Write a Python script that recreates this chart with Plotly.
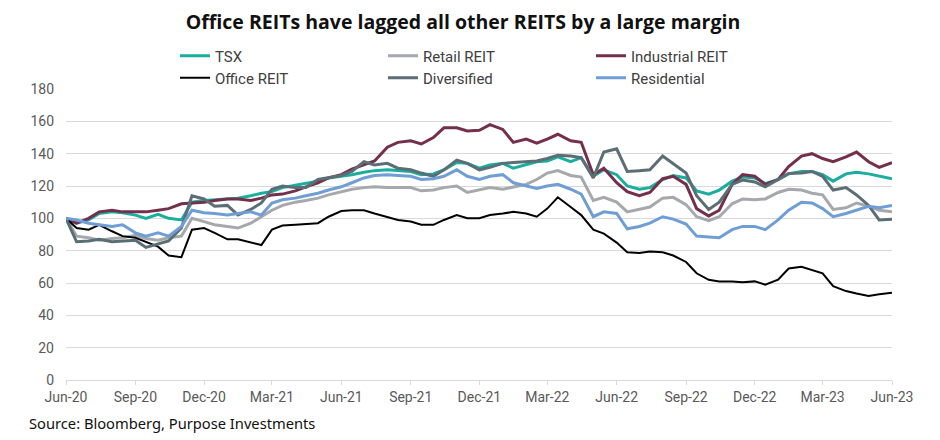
import plotly.graph_objects as go
import pandas as pd

dates = pd.date_range("2020-06-01", periods=73, freq="SMS").strftime("%Y-%m-%d").tolist()

tsx = [100, 97, 99, 103, 104, 103.5, 102, 100, 102.5, 100, 99, 110, 111, 111.5, 112, 112.5, 114, 115.5, 116.5, 119,
       120.5, 121.5, 123, 125, 126, 127, 128.5, 129.5, 130, 129.5, 129, 127, 127.5, 130, 134.5, 134, 131, 133, 134, 131,
       133, 135, 135.5, 138, 135, 137.5, 126, 130, 127, 120, 118, 119, 124, 126.5, 125, 117, 115, 117.5, 123, 125.5,
       125, 121.5, 124, 127.5, 129, 129, 127, 123, 127.5, 128.5, 127.5, 126, 124.5]
retail = [100, 89, 88, 86.5, 87.5, 88, 89.5, 87.5, 86.5, 88, 89, 100, 98, 96, 95, 94, 97, 101, 105, 108,
          110, 111, 112.5, 114.5, 116.5, 118, 119, 119.5, 119, 119, 119, 117, 117.5, 119, 120, 116, 117.5, 119, 118, 119.5,
          121, 124, 128, 129.5, 126.5, 125.5, 111, 113, 110, 104, 105.5, 107, 112.5, 113, 108.5, 101, 98.5, 101, 109, 112,
          111.5, 112, 116, 118, 117.5, 115.5, 114.5, 105.5, 106.5, 109.5, 107.5, 105, 104]
industrial = [100, 97, 100, 104, 105, 104, 104, 104, 105, 106, 109, 109.5, 110, 111, 112, 112, 111, 112.5, 114.5, 115,
              117, 119.5, 122, 125, 127, 130.5, 133, 135.5, 144, 147, 148, 146, 150, 156, 156, 154, 154.5, 158, 155, 147,
              149, 146.5, 149, 152, 148, 147, 127, 131, 122, 116.5, 114, 116, 124.5, 126, 121, 106, 101.5, 105, 121, 127,
              126, 121, 124, 132, 138.5, 140, 137, 135, 138, 141, 135, 131.5, 134.5]
office = [100, 94, 93, 96, 92, 89, 88, 85.5, 82.5, 77, 76, 93, 94, 91, 87, 87, 85, 83.5, 93, 95.5,
          96, 96.5, 97, 101, 104.5, 105, 105, 103, 101, 99, 98, 96, 96, 99, 102, 100, 100, 102, 103, 104,
          103, 101, 106, 113, 107, 102, 93, 90.5, 85, 79, 78.5, 79.5, 79, 77, 73, 66, 62, 61, 61, 60.5,
          61, 59, 62, 69, 70, 68, 66, 58, 55, 53.5, 52, 53, 54]
diversified = [100, 85.5, 86, 87, 85.5, 86, 86.5, 82, 84, 86, 94, 114, 112, 107.5, 108, 102, 105.5, 109.5, 118, 120,
               119, 119, 124, 125, 126.5, 129, 135, 133, 134, 131, 130, 128, 126, 130, 136, 134, 130, 131.5, 134, 134.5,
               135, 135.5, 137, 139, 138.5, 137.5, 125, 141, 143, 129, 129.5, 130, 138.5, 134, 128, 114, 105.5, 110, 121, 123.7,
               122.5, 119.5, 124, 127.8, 128, 129, 126, 117.5, 119, 114.5, 108, 99, 99.5]
residential = [100, 99, 97, 96, 95, 96, 91, 89, 91, 89, 95, 105, 103.5, 103, 102, 103, 104, 102, 109.5, 111.5,
               112.5, 114, 115.5, 117.5, 119.5, 122, 125, 126.5, 127, 126.5, 126, 124, 124.5, 126, 130, 126, 124, 126, 127, 122,
               120, 118.5, 120, 121, 118, 115, 101, 104, 103, 93.5, 95, 97, 101, 99.5, 96.5, 89, 88.5, 88, 93, 95,
               95, 93, 99, 105, 110, 109.5, 106, 101, 103, 105, 107.5, 106.5, 108]

series_names = ["TSX", "Retail REIT", "Industrial REIT", "Office REIT", "Diversified", "Residential"]
series_values = [tsx, retail, industrial, office, diversified, residential]
colors = ["#1AAE9F", "#A5A8AC", "#742F4B", "#000000", "#5B6E76", "#6F9ED6"]
widths = [3, 3, 3, 2, 3, 3]
legends = ["legend", "legend", "legend", "legend2", "legend2", "legend2"]

fig = go.Figure()
for name, vals, c, w, lg in zip(series_names, series_values, colors, widths, legends):
    fig.add_trace(go.Scatter(x=dates, y=vals, mode="lines", name=name,
                             line=dict(color=c, width=w), legend=lg))

# page body has an 8px margin, so the figure is 932x432 and offsets are shifted by 8px
FIG_W, FIG_H = 932, 432
PLOT_W, PLOT_H, TOP = 826, 291, 81
legend_common = dict(orientation="h", xref="paper", yref="paper", xanchor="left", yanchor="middle",
                     entrywidth=163, entrywidthmode="pixels", bgcolor="rgba(0,0,0,0)",
                     font=dict(family="Roboto", size=15, color="#404040"), itemwidth=30,
                     tracegroupgap=0)

fig.update_layout(
    width=FIG_W, height=FIG_H,
    margin=dict(l=58, r=48, t=TOP, b=60, autoexpand=False),
    paper_bgcolor="white", plot_bgcolor="white",
    title=dict(text="<b>Office REITs have lagged all other REITS by a large margin</b>",
               x=455 / FIG_W, xanchor="center", y=1 - 14 / FIG_H, yanchor="middle", yref="container",
               xref="container",
               font=dict(family="Open Sans", size=19.5, color="#111111")),
    legend=dict(x=(175 - 66) / PLOT_W, y=1 + (89 - 56) / PLOT_H, **legend_common),
    legend2=dict(x=(175 - 66) / PLOT_W, y=1 + (89 - 78) / PLOT_H, **legend_common),
    xaxis=dict(type="date", range=["2020-06-01", "2023-06-01"], tick0="2020-06-01", dtick="M3",
               tickformat="%b-%y", showgrid=False, showline=True, linecolor="#D9D9D9", linewidth=1,
               ticks="outside", ticklen=4, tickcolor="#D9D9D9",
               tickfont=dict(family="Roboto", size=14, color="#595959"), zeroline=False),
    yaxis=dict(range=[0, 180], dtick=20, showgrid=True, gridcolor="#D9D9D9", gridwidth=1,
               zeroline=False, showline=False, ticks="", ticklabelstandoff=11,
               tickfont=dict(family="Roboto", size=14, color="#595959")),
    showlegend=True,
)

fig.add_annotation(text="Source: Bloomberg, Purpose Investments", xref="paper", yref="paper",
                   x=-39 / PLOT_W, y=-43 / PLOT_H, xanchor="left", yanchor="middle", showarrow=False,
                   font=dict(family="Noto Sans", size=14.7, color="#111111"))

fig.write_html("out.html")
